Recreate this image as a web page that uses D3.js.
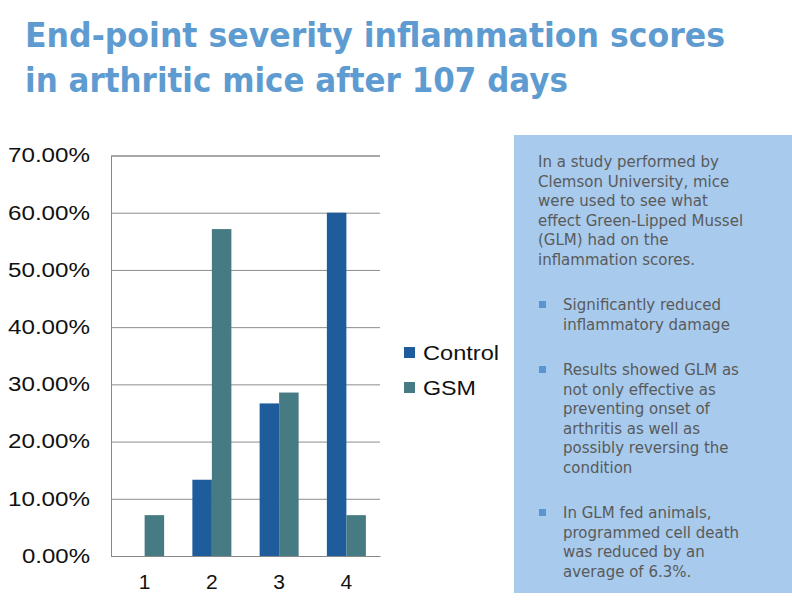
<!DOCTYPE html>
<html>
<head>
<meta charset="utf-8">
<script src="https://cdn.jsdelivr.net/npm/d3@7"></script>
<style>
  body { margin: 0; background: #fff; }
  svg { display: block; }
</style>
</head>
<body>
<svg id="chart" width="792" height="601"></svg>
<script>
// chart data
let categories = ["1", "2", "3", "4"];
let seriesNames = ["Control", "GSM"];
let controlValues = [0, 0.1333, 0.2667, 0.60];
let gsmValues = [0.0714, 0.5714, 0.2857, 0.0714];
let yTicks = [0, 0.1, 0.2, 0.3, 0.4, 0.5, 0.6, 0.7];

let titleLines = ["End-point severity inflammation scores", "in arthritic mice after 107 days"];
let introLines = ["In a study performed by", "Clemson University, mice", "were used to see what",
    "effect Green-Lipped Mussel", "(GLM) had on the", "inflammation scores."];
let bullets = [
    ["Significantly reduced", "inflammatory damage"],
    ["Results showed GLM as", "not only effective as", "preventing onset of",
     "arthritis as well as", "possibly reversing the", "condition"],
    ["In GLM fed animals,", "programmed cell death", "was reduced by an", "average of 6.3%."]
];

let colors = { Control: "#1f5c9c", GSM: "#467b84" };

let svg = d3.select("#chart");

// title
let title = svg.append("g");
title.selectAll("text").data(titleLines).enter().append("text")
    .attr("x", 25)
    .attr("y", (d, i) => 47 + i * 45)
    .attr("textLength", (d, i) => i == 0 ? 700 : 543)
    .attr("lengthAdjust", "spacingAndGlyphs")
    .style("font-family", "'DejaVu Sans', sans-serif")
    .style("font-weight", "bold")
    .style("font-size", "33px")
    .style("fill", "#5e9bd0")
    .text(d => d);

// scales
let plotLeft = 111, plotRight = 380, plotTop = 155.5, plotBottom = 556;

let xScale = d3.scaleBand()
    .domain(categories)
    .range([plotLeft, plotRight])
    .paddingInner(0.42)
    .paddingOuter(0.21);

let xInner = d3.scaleBand()
    .domain(seriesNames)
    .range([0, xScale.bandwidth()]);

let yScale = d3.scaleLinear()
    .domain([0, 0.7])
    .range([plotBottom, plotTop]);

// gridlines + y axis
let yAxis = d3.axisLeft(yScale)
    .tickValues(yTicks)
    .tickSize(-(plotRight - plotLeft))
    .tickPadding(21)
    .tickFormat(d3.format(".2%"));

let gY = svg.append("g")
    .attr("transform", "translate(" + plotLeft + ",0)")
    .call(yAxis);
gY.select(".domain").attr("stroke", "#888");
gY.selectAll(".tick line").attr("stroke", "#8c8c8c");
gY.selectAll(".tick text")
    .attr("textLength", d => d < 0.1 ? 68 : 82)
    .attr("lengthAdjust", "spacingAndGlyphs")
    .style("font-family", "'Liberation Sans', Arial, sans-serif")
    .style("font-size", "20px")
    .style("fill", "#111");

let xAxis = d3.axisBottom(xScale).tickSize(0).tickPadding(18);
let gX = svg.append("g")
    .attr("transform", "translate(0," + plotBottom + ")")
    .call(xAxis);
gX.select(".domain").attr("stroke", "#888");
gX.selectAll(".tick text")
    .style("font-family", "'Liberation Sans', Arial, sans-serif")
    .style("font-size", "21px")
    .style("fill", "#111");

// bars
let rows = categories.map((c, i) => ({ cat: c, values: [
    { name: "Control", value: controlValues[i] },
    { name: "GSM", value: gsmValues[i] }
] }));

let groups = svg.append("g").selectAll("g").data(rows).enter().append("g")
    .attr("transform", d => "translate(" + xScale(d.cat) + ",0)");

groups.selectAll("rect").data(d => d.values).enter().append("rect")
    .attr("x", d => xInner(d.name))
    .attr("y", d => yScale(d.value))
    .attr("width", xInner.bandwidth())
    .attr("height", d => plotBottom - yScale(d.value))
    .attr("fill", d => colors[d.name]);

// legend
let legend = svg.append("g").selectAll("g").data(seriesNames).enter().append("g")
    .attr("transform", (d, i) => "translate(404," + (347 + i * 35) + ")");
legend.append("rect").attr("width", 11).attr("height", 11).attr("fill", d => colors[d]);
legend.append("text")
    .attr("x", 19).attr("y", 13)
    .attr("textLength", d => d == "Control" ? 76 : 53)
    .attr("lengthAdjust", "spacingAndGlyphs")
    .style("font-family", "'Liberation Sans', Arial, sans-serif")
    .style("font-size", "21px")
    .style("fill", "#111")
    .text(d => d);

// side panel
let panel = svg.append("g");
panel.append("rect")
    .attr("x", 514).attr("y", 135)
    .attr("width", 278).attr("height", 458)
    .attr("fill", "#a7caed");

let textStyle = sel => sel
    .style("font-family", "'DejaVu Sans', sans-serif")
    .style("font-size", "15px")
    .style("fill", "#5a5a5a");

panel.append("g").selectAll("text").data(introLines).enter().append("text")
    .attr("x", 538)
    .attr("y", (d, i) => 167 + i * 19.6)
    .call(textStyle)
    .text(d => d);

let bulletTops = [310, 375, 518];
bullets.forEach((lines, b) => {
    let g = panel.append("g");
    g.append("rect")
        .attr("x", 539).attr("y", bulletTops[b] - 9)
        .attr("width", 7).attr("height", 7)
        .attr("fill", "#5b95cf");
    g.selectAll("text").data(lines).enter().append("text")
        .attr("x", 563)
        .attr("y", (d, i) => bulletTops[b] + i * 19.6)
        .call(textStyle)
        .text(d => d);
});
</script>
</body>
</html>
